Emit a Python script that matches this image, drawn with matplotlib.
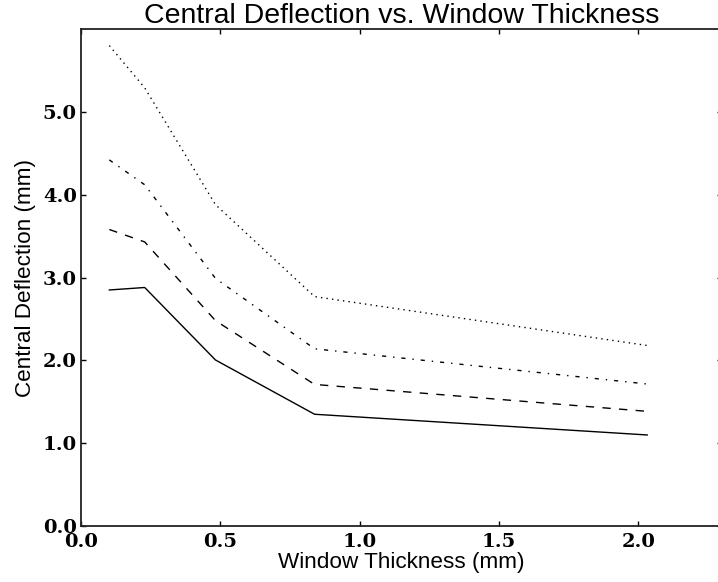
import matplotlib
matplotlib.use("Agg")
import matplotlib.pyplot as plt

# Window thickness (mm)
thickness = [0.1016, 0.2286, 0.4826, 0.8382, 2.032]
# Central deflection (mm) for four cases
defl_solid = [2.85, 2.88, 2.005, 1.35, 1.10]
defl_dashed = [3.58, 3.43, 2.48, 1.71, 1.385]
defl_dashdot = [4.42, 4.12, 2.99, 2.14, 1.715]
defl_dotted = [5.80, 5.29, 3.88, 2.77, 2.18]

x_ticks = [0.0, 0.5, 1.0, 1.5, 2.0]
y_ticks = [0.0, 1.0, 2.0, 3.0, 4.0, 5.0]

fig = plt.figure(figsize=(7.18, 5.82), dpi=100)
ax = fig.add_axes([81 / 718, 1 - 526.1 / 582, 640.9 / 718, (526.1 - 29) / 582])

series = [
    (defl_solid, "-"),
    (defl_dashed, (0, (6, 6))),
    (defl_dashdot, (0, (3, 5, 1, 5))),
    (defl_dotted, (0, (1, 3))),
]
for vals, ls in series:
    ax.plot(thickness, vals, color="black", linestyle=ls, linewidth=1.0)

ax.set_xlim(0, 2.3)
ax.set_ylim(0, 6.0)
ax.set_xticks(x_ticks)
ax.set_yticks(y_ticks)
ax.set_xticklabels([f"{v:.1f}" for v in x_ticks])
ax.set_yticklabels([f"{v:.1f}" for v in y_ticks])

for lab in ax.get_xticklabels() + ax.get_yticklabels():
    lab.set_fontfamily("DejaVu Serif")
    lab.set_fontweight("bold")
    lab.set_fontsize(14)

ax.tick_params(axis="both", direction="in", length=3.5, width=1, top=True, right=True)
ax.tick_params(axis="x", pad=5)
ax.tick_params(axis="y", pad=3)
for sp in ax.spines.values():
    sp.set_linewidth(1.3)
    sp.set_color("#222222")

ax.set_title("Central Deflection vs. Window Thickness", family="Liberation Sans",
             fontsize=20.5, pad=4.5)
ax.set_xlabel("Window Thickness (mm)", family="Liberation Sans", fontsize=16.2, labelpad=1)
ax.set_ylabel("Central Deflection (mm)", family="Liberation Sans", fontsize=16.2, labelpad=5)

fig.savefig("out.png", dpi=100)
